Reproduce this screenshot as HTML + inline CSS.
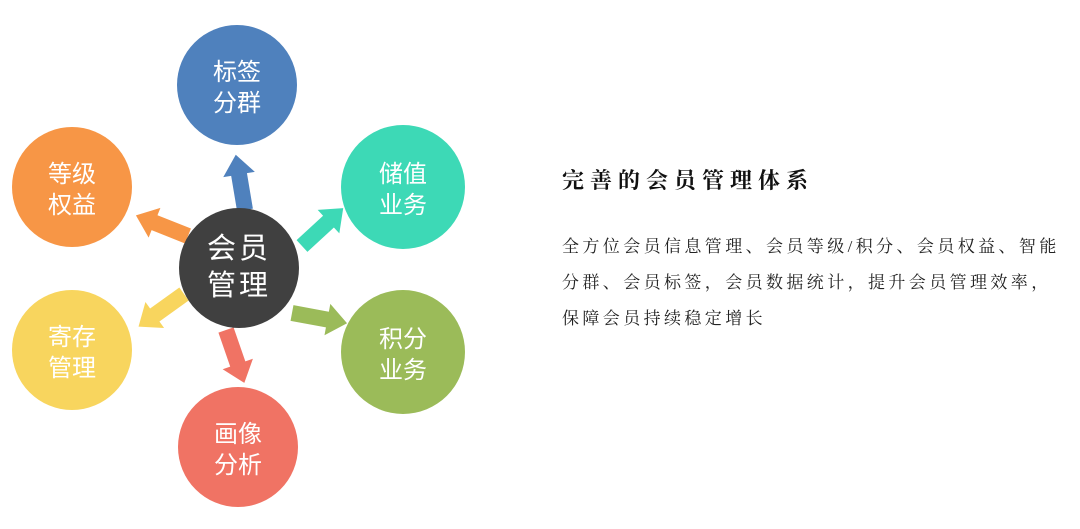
<!DOCTYPE html>
<html><head><meta charset="utf-8"><style>
html,body{margin:0;padding:0;background:#fff;width:1080px;height:529px;overflow:hidden}
.t{position:absolute;left:562px;font-family:"Liberation Serif","Noto Serif CJK SC",serif;color:#111;white-space:nowrap}
</style></head><body>
<svg width="1080" height="529" style="position:absolute;left:0;top:0" font-family="Liberation Sans, Noto Sans CJK SC, sans-serif">
<defs><polygon id="ar" points="0,-8 36,-8 36,-16 56,0 36,16 36,8 0,8"/></defs>
<circle cx="237" cy="85" r="60" fill="#4F81BD"/>
<circle cx="403" cy="187" r="62" fill="#3DD9B6"/>
<circle cx="403" cy="352" r="62" fill="#9BBB59"/>
<circle cx="238" cy="447" r="60" fill="#F07364"/>
<circle cx="72" cy="350" r="60" fill="#F8D55E"/>
<circle cx="72" cy="187" r="60" fill="#F79646"/>
<use href="#ar" fill="#4F81BD" transform="translate(245,210) rotate(-99.5)"/>
<use href="#ar" fill="#3DD9B6" transform="translate(302,246) rotate(-42.6)"/>
<use href="#ar" fill="#9BBB59" transform="translate(292,313) rotate(10.5)"/>
<use href="#ar" fill="#F07364" transform="translate(226,330) rotate(70.9)"/>
<use href="#ar" fill="#F8D55E" transform="translate(184,294) rotate(144.3)"/>
<use href="#ar" fill="#F79646" transform="translate(188,236) rotate(-158.4)"/>
<circle cx="239" cy="268" r="60" fill="#404040"/>
<g fill="#fff" font-size="24" text-anchor="middle">
<text x="237" y="80">标签</text><text x="237" y="111">分群</text>
<text x="403" y="182">储值</text><text x="403" y="213">业务</text>
<text x="403" y="347">积分</text><text x="403" y="378">业务</text>
<text x="238" y="442">画像</text><text x="238" y="473">分析</text>
<text x="72" y="345">寄存</text><text x="72" y="376">管理</text>
<text x="72" y="182">等级</text><text x="72" y="213">权益</text>
<text x="239" y="258" font-size="29" letter-spacing="3">会员</text><text x="239" y="295" font-size="29" letter-spacing="3">管理</text>
</g>
</svg>
<div class="t" style="top:164px;font-size:22px;letter-spacing:6px;font-weight:bold">完善的会员管理体系</div>
<div class="t" style="top:229px;font-size:17px;letter-spacing:3.4px;line-height:36px;color:#222">全方位会员信息管理、会员等级/积分、会员权益、智能<br>分群、会员标签，会员数据统计，提升会员管理效率，<br>保障会员持续稳定增长</div>
</body></html>
